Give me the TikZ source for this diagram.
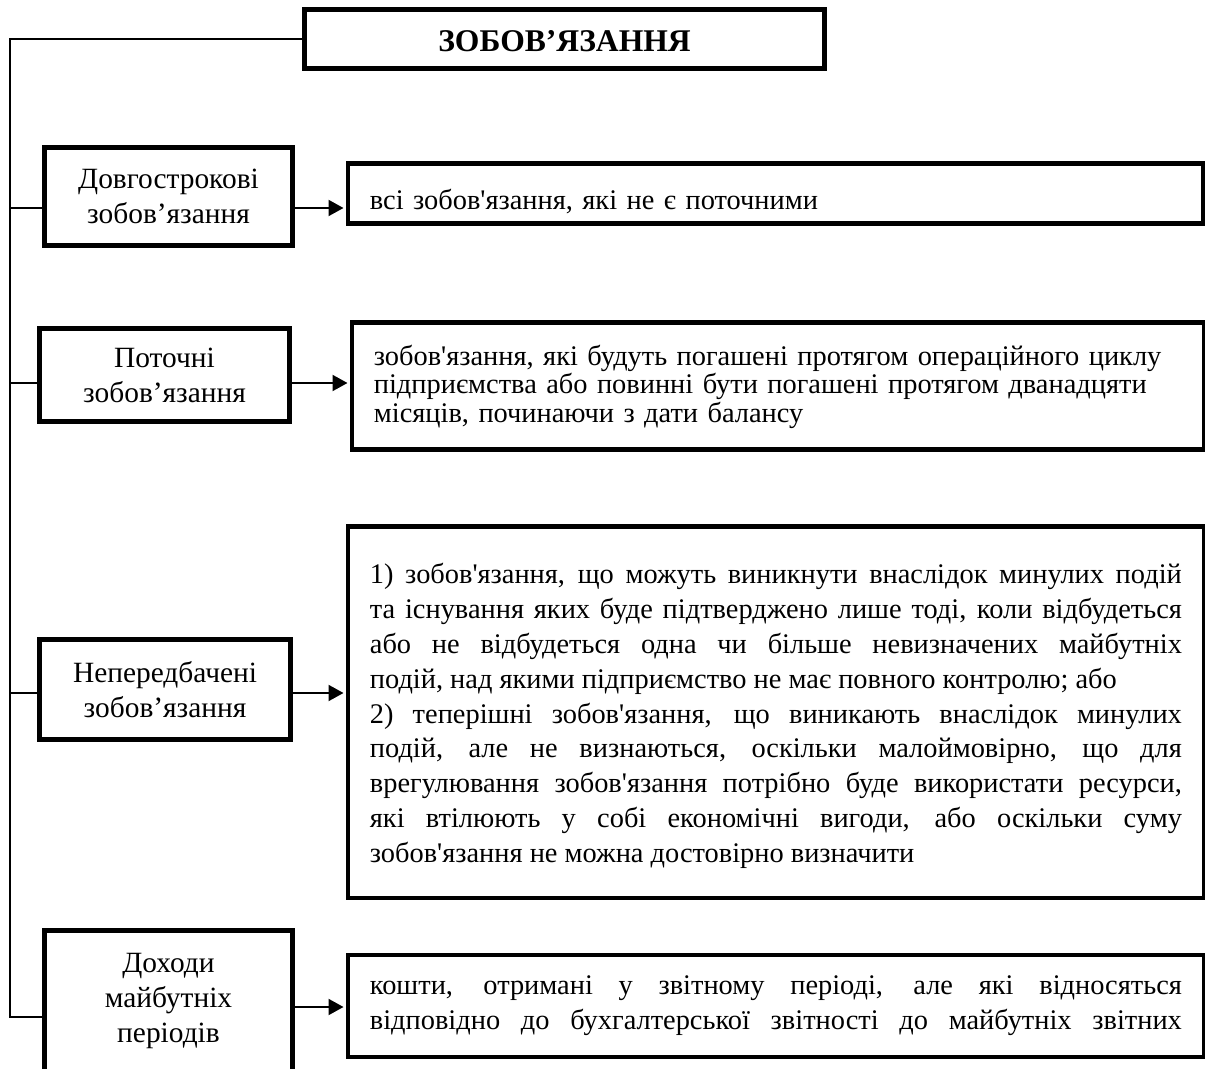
\documentclass[tikz,border=0pt]{standalone}
\usepackage{fontspec}
\setmainfont{Liberation Serif}
\usetikzlibrary{arrows.meta}
\hyphenpenalty=10000
\exhyphenpenalty=10000
\tolerance=10000
\newcommand{\aps}{\textquotesingle}

\begin{document}
\begin{tikzpicture}[x=0.5pt,y=-0.5pt,
  ttlbox/.style={draw,line width=2.4pt,minimum width=260pt,minimum height=29.5pt,inner sep=0pt,
    font=\fontsize{15.8}{18}\selectfont\bfseries},
  kind/.style={draw,line width=2.4pt,inner sep=0pt,align=center,font=\fontsize{14.7}{17.5}\selectfont},
  defn/.style={draw,line width=2.4pt,anchor=north west,inner xsep=11pt,inner ysep=0pt,
    font=\fontsize{14.2}{17.4}\selectfont},
  link/.style={line width=0.7pt},
  arr/.style={line width=1pt,-{Triangle[length=7.5pt,width=8pt]},shorten >=1pt}]
  \useasboundingbox (0,0) rectangle (1205,1069);
  \clip (0,0) rectangle (1205,1069);
  % title
  \node[ttlbox,text height=12.5pt] (ttl) at (564.5,39) {ЗОБОВ’ЯЗАННЯ};
  % kinds of liabilities
  \node[kind,minimum width=124pt,minimum height=49pt] (d1) at (168.5,196.5) {Довгострокові\\зобов’язання};
  \node[kind,minimum width=125pt,minimum height=46.5pt] (d2) at (164.5,375) {Поточні\\зобов’язання};
  \node[kind,minimum width=125.5pt,minimum height=50pt] (d3) at (165,689.5) {Непередбачені\\зобов’язання};
  \node[kind,minimum width=124pt,minimum height=70.5pt] (d4) at (168.5,1001) {Доходи\\майбутніх\\періодів};
  % definitions
  \node[defn,text width=405.5pt,text height=22.75pt,text depth=7.25pt,align=left] (t1) at (345.5,161.5)
    {всі зобов\aps язання, які не є поточними};
  \node[defn,text width=404pt,text height=21.25pt,text depth=42.25pt,align=left,
    font=\fontsize{14.2}{14.25}\selectfont] (t2) at (349.5,320.5)
    {зобов\aps язання, які будуть погашені протягом операційного циклу\\
     підприємства або повинні бути погашені протягом дванадцяти\\
     місяців, починаючи з дати балансу};
  \node[defn,text width=406pt,text height=28.5pt,text depth=157pt,align=justify] (t3) at (345.5,524.5)
    {1) зобов\aps язання, що можуть виникнути внаслідок минулих подій\linebreak
     та існування яких буде підтверджено лише тоді, коли відбудеться\linebreak
     або не відбудеться одна чи більше невизначених майбутніх\linebreak
     подій, над якими підприємство не має повного контролю; або\par
     2) теперішні зобов\aps язання, що виникають внаслідок минулих\linebreak
     подій, але не визнаються, оскільки малоймовірно, що для\linebreak
     врегулювання зобов\aps язання потрібно буде використати ресурси,\linebreak
     які втілюють у собі економічні вигоди, або оскільки суму\linebreak
     зобов\aps язання не можна достовірно визначити};
  \node[defn,text width=406pt,text height=19.75pt,text depth=31.25pt,align=justify,
    font=\fontsize{14.2}{17.5}\selectfont] (t4) at (345.5,952.5)
    {\parfillskip=0pt кошти, отримані у звітному періоді, але які відносяться\linebreak
     відповідно до бухгалтерської звітності до майбутніх звітних\par};
  % connectors
  \coordinate (sb) at (10,1017);
  \draw[link] (ttl.west) -| (sb) -- (sb -| d4.west);
  \foreach \i/\y in {1/208,2/383,3/693} {
    \coordinate (b\i) at (10,\y);
    \draw[link] (b\i) -- (b\i -| d\i.west);
    \draw[arr] (b\i -| d\i.east) -- (b\i -| t\i.west);
  }
  \coordinate (b4) at (10,1007);
  \draw[arr] (b4 -| d4.east) -- (b4 -| t4.west);
\end{tikzpicture}
\end{document}
